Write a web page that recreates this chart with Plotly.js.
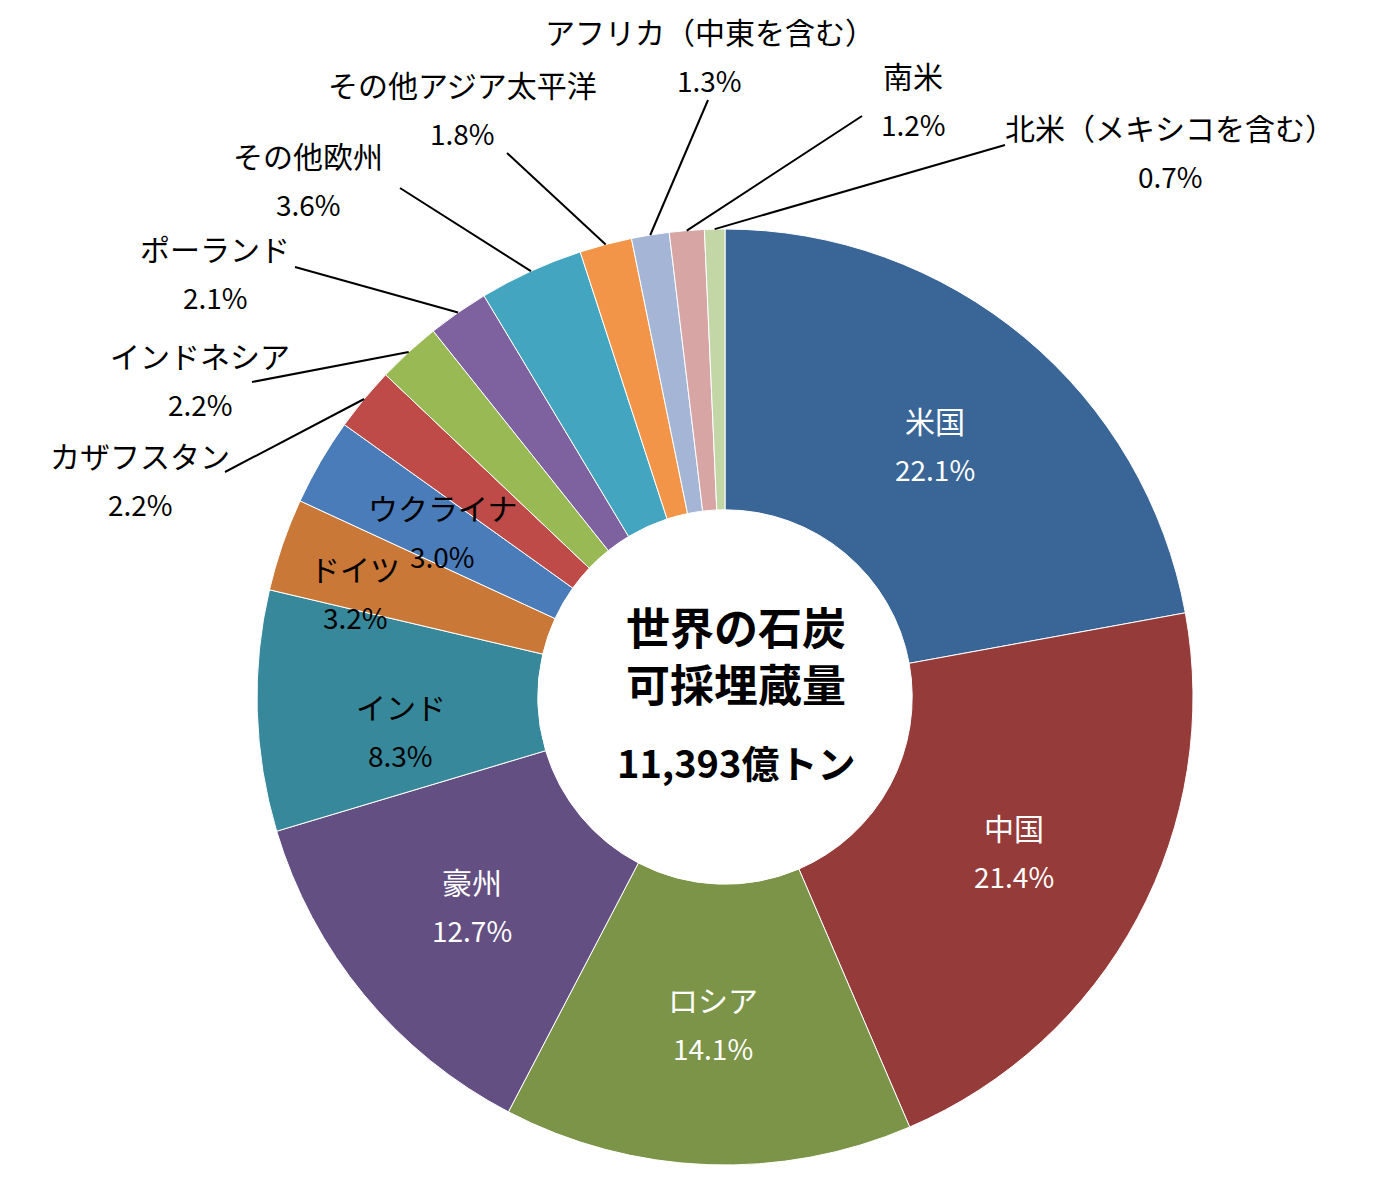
<!DOCTYPE html>
<html>
<head>
<meta charset="utf-8">
<script src="https://cdn.plot.ly/plotly-3.0.1.min.js"></script>
<style>
	body { margin: 0; background: #fff; }
	#chart { width: 1380px; height: 1200px; }
</style>
</head>
<body>
<div id="chart"></div>
<script>
// data
var regions = ['米国', '中国', 'ロシア', '豪州', 'インド', 'ドイツ', 'ウクライナ', 'カザフスタン',
	'インドネシア', 'ポーランド', 'その他欧州', 'その他アジア太平洋', 'アフリカ（中東を含む）', '南米', '北米（メキシコを含む）'];
var shares = [22.1, 21.4, 14.1, 12.7, 8.3, 3.2, 3.0, 2.2, 2.2, 2.1, 3.6, 1.8, 1.3, 1.2, 0.7];
var centerTitle = ['世界の石炭', '可採埋蔵量'];
var centerTotal = '11,393億トン';

var colors = ['#3a6597', '#953b39', '#7b9447', '#634f82', '#37889a', '#c97838', '#4a7cba', '#be4b48',
	'#98b954', '#7e62a0', '#43a5bf', '#f39548', '#a5b5d6', '#d6a5a4', '#c3d6a6'];

// geometry of the page (pixels)
var W = 1380, H = 1200;
var CX = 725, CY = 697, R = 468;

// label placement: 'in' = inside the slice, otherwise pixel position of the outside label
// and pixel position of the outer end of its leader line
var labelSpots = [
	{ mode: 'in', color: '#ffffff' },
	{ mode: 'in', color: '#ffffff' },
	{ mode: 'in', color: '#ffffff' },
	{ mode: 'in', color: '#ffffff' },
	{ mode: 'in', color: '#000000', dx: 3, dy: 24 },
	{ mode: 'in', color: '#000000', dx: -60, dy: 3 },
	{ mode: 'in', color: '#000000', dx: 1, dy: 0 },
	{ mode: 'out', x: 140, y: 480, lx: 225, ly: 472 },
	{ mode: 'out', x: 200, y: 380, lx: 252, ly: 382 },
	{ mode: 'out', x: 215, y: 273, lx: 295, ly: 267 },
	{ mode: 'out', x: 308, y: 180, lx: 400, ly: 188 },
	{ mode: 'out', x: 462, y: 109, lx: 507, ly: 153 },
	{ mode: 'out', x: 710, y: 56, lx: 708, ly: 100 },
	{ mode: 'out', x: 913, y: 100, lx: 862, ly: 116 },
	{ mode: 'out', x: 1170, y: 152, lx: 1005, ly: 145 }
];

function px(x) { return x / W; }
function py(y) { return 1 - y / H; }

var total = shares.reduce(function (a, b) { return a + b; }, 0);
var annotations = [];
var shapes = [];
var cum = 0;

shares.forEach(function (v, i) {
	var mid = (cum + v / 2) / total * 2 * Math.PI;
	cum += v;
	var spot = labelSpots[i];
	var lx, ly, col;
	if (spot.mode === 'in') {
		lx = CX + 0.70 * R * Math.sin(mid) + (spot.dx || 0);
		ly = CY - 0.70 * R * Math.cos(mid) + (spot.dy || 0);
		col = spot.color;
	} else {
		lx = spot.x;
		ly = spot.y;
		col = '#000000';
		shapes.push({
			type: 'line', xref: 'paper', yref: 'paper',
			x0: px(spot.lx), y0: py(spot.ly),
			x1: px(CX + R * Math.sin(mid)), y1: py(CY - R * Math.cos(mid)),
			line: { color: '#000000', width: 2 }
		});
	}
	annotations.push({
		xref: 'paper', yref: 'paper', x: px(lx), y: py(ly - 25),
		text: regions[i], showarrow: false, xanchor: 'center', yanchor: 'middle',
		font: { family: 'Noto Sans CJK JP', size: 30, color: col }
	});
	annotations.push({
		xref: 'paper', yref: 'paper', x: px(lx), y: py(ly + 24),
		text: v.toFixed(1) + '%', showarrow: false, xanchor: 'center', yanchor: 'middle',
		font: { family: 'Noto Sans CJK JP', size: 28, color: col }
	});
});

// centre of the donut
annotations.push({
	xref: 'paper', yref: 'paper', x: px(736), y: py(655),
	text: '<b>' + centerTitle.join('<br>') + '</b>', showarrow: false,
	xanchor: 'center', yanchor: 'middle',
	font: { family: 'Noto Sans CJK JP', size: 44, color: '#000000' }
});
annotations.push({
	xref: 'paper', yref: 'paper', x: px(736), y: py(761),
	text: '<b>' + centerTotal + '</b>', showarrow: false,
	xanchor: 'center', yanchor: 'middle',
	font: { family: 'Noto Sans CJK JP', size: 38, color: '#000000' }
});

var data = [{
	type: 'pie',
	labels: regions,
	values: shares,
	sort: false,
	direction: 'clockwise',
	rotation: 0,
	hole: 0.4,
	textinfo: 'none',
	hoverinfo: 'none',
	marker: { colors: colors, line: { color: '#ffffff', width: 1 } },
	domain: { x: [px(CX - R), px(CX + R)], y: [py(CY + R), py(CY - R)] }
}];

var layout = {
	width: W,
	height: H,
	margin: { l: 0, r: 0, t: 0, b: 0 },
	showlegend: false,
	paper_bgcolor: '#ffffff',
	annotations: annotations,
	shapes: shapes
};

Plotly.newPlot('chart', data, layout, { displayModeBar: false, staticPlot: true });
</script>
</body>
</html>
